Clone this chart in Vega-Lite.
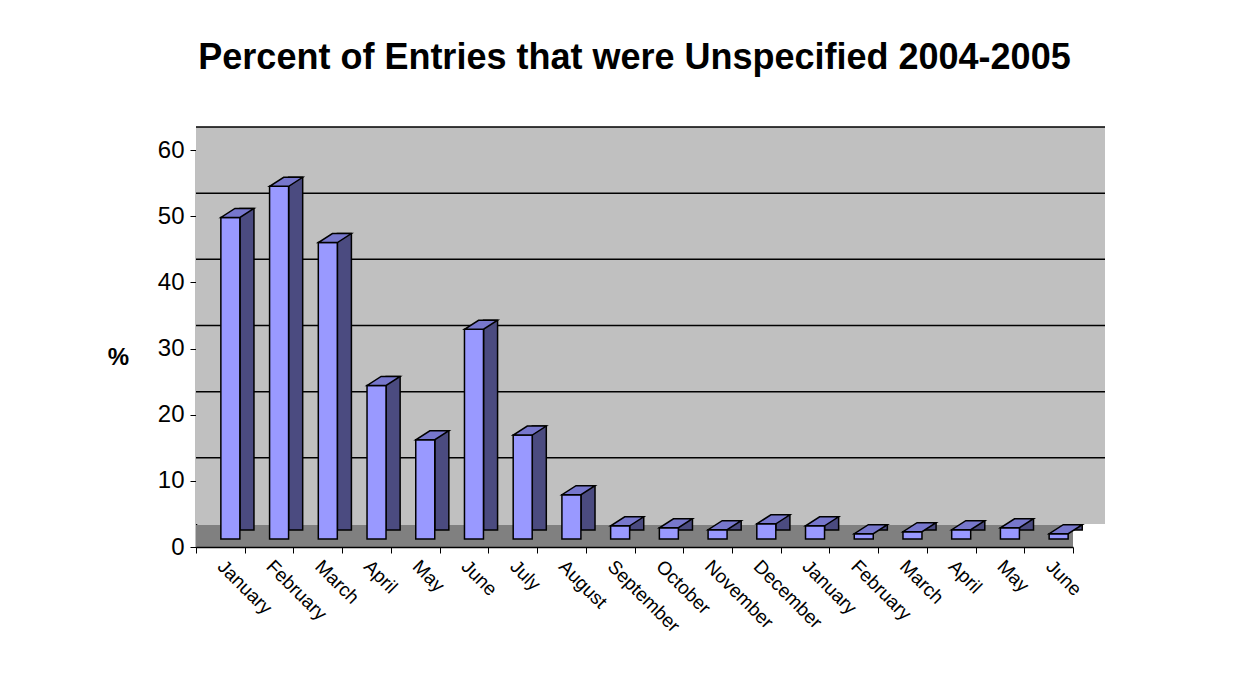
{
  "$schema": "https://vega.github.io/schema/vega-lite/v6.json",
  "autosize": "none",
  "width": 877,
  "height": 397,
  "padding": {"left": 196, "top": 150, "right": 183, "bottom": 137},
  "background": "white",
  "title": {
    "text": "Percent of Entries that were Unspecified 2004-2005",
    "font": "Liberation Sans",
    "fontSize": 36,
    "fontWeight": "bold",
    "color": "black",
    "anchor": "middle",
    "offset": 49
  },
  "config": {
    "view": {"fill": "#C0C0C0", "stroke": null},
    "axis": {"labelFont": "Liberation Sans", "titleFont": "Liberation Sans", "labelColor": "black", "titleColor": "black", "domainColor": "black", "tickColor": "black", "gridColor": "black"}
  },
  "datasets": {
    "bars": [
      {"idx": 1, "month": "January", "pct": 48.6},
      {"idx": 2, "month": "February", "pct": 53.3},
      {"idx": 3, "month": "March", "pct": 44.8},
      {"idx": 4, "month": "April", "pct": 23.2},
      {"idx": 5, "month": "May", "pct": 15.0},
      {"idx": 6, "month": "June", "pct": 31.7},
      {"idx": 7, "month": "July", "pct": 15.7},
      {"idx": 8, "month": "August", "pct": 6.7},
      {"idx": 9, "month": "September", "pct": 2.0},
      {"idx": 10, "month": "October", "pct": 1.7},
      {"idx": 11, "month": "November", "pct": 1.4},
      {"idx": 12, "month": "December", "pct": 2.3},
      {"idx": 13, "month": "January", "pct": 2.0},
      {"idx": 14, "month": "February", "pct": 0.8},
      {"idx": 15, "month": "March", "pct": 1.1},
      {"idx": 16, "month": "April", "pct": 1.4},
      {"idx": 17, "month": "May", "pct": 1.7},
      {"idx": 18, "month": "June", "pct": 0.8}
    ],
    "grid": [{"v": 10}, {"v": 20}, {"v": 30}, {"v": 40}, {"v": 50}, {"v": 60}]
  },
  "layer": [
    {
      "data": {"name": "grid"},
      "mark": {"type": "rect", "color": "#C0C0C0", "xOffset": 32, "x2Offset": 32, "yOffset": -23, "y2Offset": -23},
      "encoding": {
        "y": {"datum": 0, "type": "quantitative", "scale": {"domain": [0, 60]},
          "axis": {
            "title": "%",
            "titleAngle": 0,
            "titleFontSize": 24,
            "titleFontWeight": "bold",
            "titleX": -78,
            "titleY": 207,
            "titleAlign": "center",
            "titleBaseline": "middle",
            "labelFontSize": 24,
            "labelPadding": 6,
            "labelOverlap": false,
            "tickSize": 6,
            "values": [0, 10, 20, 30, 40, 50, 60],
            "grid": false,
            "domainWidth": 1.5
          }},
        "y2": {"datum": 60}
      }
    },
    {
      "data": {"name": "grid"},
      "mark": {"type": "rule", "color": "black", "strokeWidth": 1.5, "xOffset": 32, "x2Offset": 32, "yOffset": -23, "y2Offset": -23},
      "encoding": {"y": {"field": "v", "type": "quantitative"}}
    },
    {
      "data": {"name": "grid"},
      "mark": {"type": "rect", "color": "#808080", "y2Offset": -22},
      "encoding": {"y": {"datum": 0, "type": "quantitative"}, "y2": {"datum": 0}}
    },
    {
      "data": {"name": "bars"},
      "encoding": {
        "x": {
          "field": "idx",
          "type": "ordinal",
          "scale": {"paddingInner": 0, "paddingOuter": 0},
          "axis": {
            "title": null,
            "labelExpr": "['January','February','March','April','May','June','July','August','September','October','November','December','January','February','March','April','May','June'][datum.value - 1]",
            "labelAngle": 45,
            "labelAlign": "left",
            "labelBaseline": "middle",
            "labelFontSize": 19,
            "labelPadding": 10,
            "tickBand": "extent",
            "tickSize": 6,
            "domainWidth": 1.5,
            "zindex": 1
          }
        },
        "y": {"field": "pct", "type": "quantitative"}
      },
      "layer": [
        {
          "mark": {"type": "bar", "width": 14, "color": "#4B4B80", "stroke": "black", "strokeWidth": 1.5, "xOffset": 26.6, "yOffset": -17, "y2Offset": -12.5}
        },
        {
          "mark": {"type": "bar", "width": 19, "color": "#9999FF", "stroke": "black", "strokeWidth": 1.5, "xOffset": 10, "yOffset": -8, "y2Offset": -8}
        },
        {
          "mark": {"type": "point", "filled": true, "opacity": 1, "size": 1089, "fill": "#7777CC", "stroke": "black", "strokeWidth": 1.5, "strokeOpacity": 1, "xOffset": 17.1, "yOffset": -12.5,
            "shape": "M-1,0.2727L0.1515,0.2727L1,-0.2727L-0.1515,-0.2727Z"}
        }
      ]
    }
  ]
}
